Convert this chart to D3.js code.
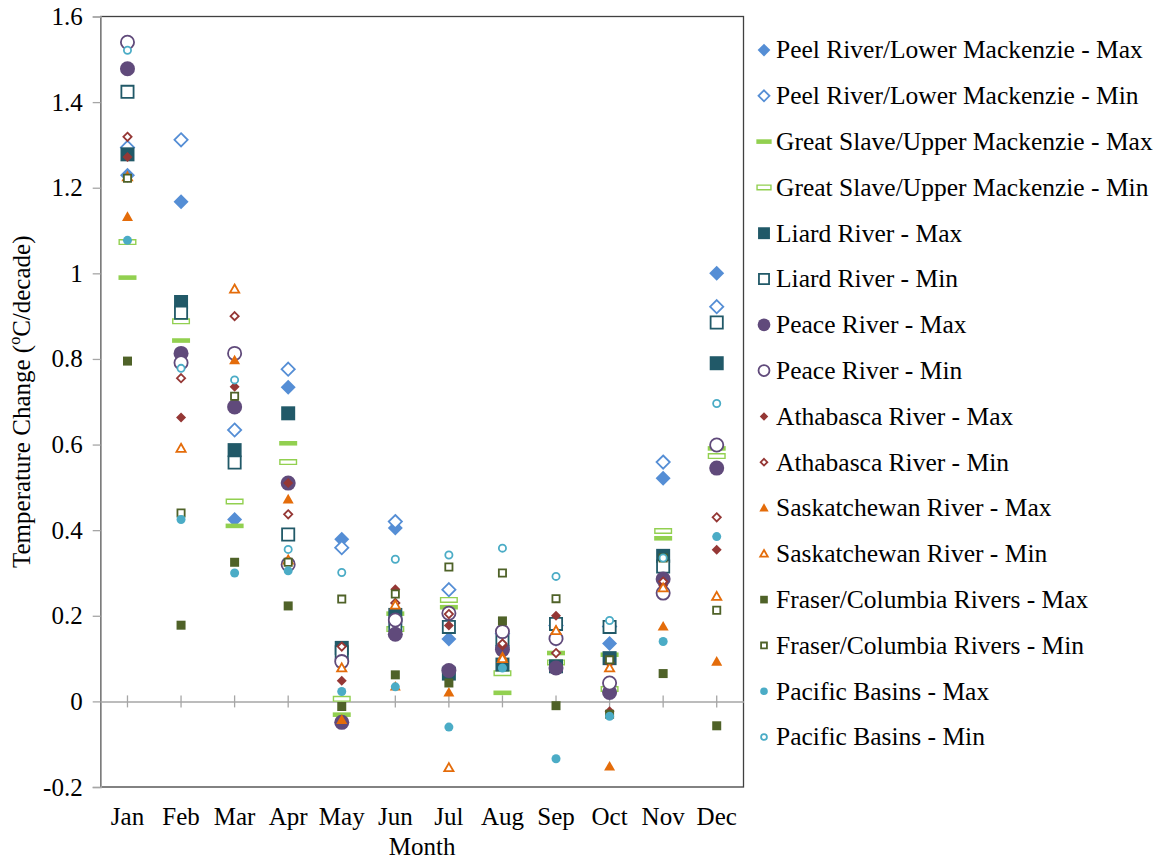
<!DOCTYPE html>
<html>
<head>
<meta charset="utf-8">
<script src="https://cdn.jsdelivr.net/npm/d3@7"></script>
<style>
  body { margin: 0; background: #fff; }
  svg text { font-family: 'Liberation Serif', 'Times New Roman', 'DejaVu Serif', serif; fill: #000; }
</style>
</head>
<body>
<div id="visualization"></div>
<script>

// months on the x axis
let months = ['Jan', 'Feb', 'Mar', 'Apr', 'May', 'Jun', 'Jul', 'Aug', 'Sep', 'Oct', 'Nov', 'Dec'];
let yTicks = [-0.2, 0, 0.2, 0.4, 0.6, 0.8, 1, 1.2, 1.4, 1.6];

// temperature change per decade, one value per month (null = not shown)
let peelMax      = [1.229, 1.167, 0.425, 0.734, 0.379, 0.405, 0.146, 0.130, 0.145, 0.135, 0.521, 1.000];
let peelMin      = [1.294, 1.312, 0.634, 0.776, 0.359, 0.420, 0.261, 0.158, 0.177, 0.175, 0.559, 0.922];
let slaveMax     = [0.990, 0.843, 0.410, 0.603, -0.031, 0.205, 0.220, 0.020, 0.113, 0.109, 0.381, 0.591];
let slaveMin     = [1.073, 0.888, 0.467, 0.559, 0.006, 0.169, 0.237, 0.066, 0.091, 0.029, 0.398, 0.573];
let liardMax     = [1.278, 0.933, 0.587, 0.673, 0.125, 0.202, 0.065, 0.086, 0.082, 0.101, 0.340, 0.790];
let liardMin     = [1.424, 0.908, 0.558, 0.390, 0.115, 0.179, 0.174, 0.140, 0.181, 0.174, 0.315, 0.885];
let peaceMax     = [1.478, 0.813, 0.688, 0.510, -0.049, 0.157, 0.072, 0.121, 0.078, 0.021, 0.286, 0.545];
let peaceMin     = [1.540, 0.791, 0.813, 0.320, 0.093, 0.190, 0.206, 0.163, 0.147, 0.043, 0.253, 0.599];
let athaMax      = [1.272, 0.663, 0.735, 0.510, 0.048, 0.262, 0.177, 0.130, 0.200, -0.023, 0.270, 0.354];
let athaMin      = [1.319, 0.755, 0.900, 0.437, 0.128, 0.230, 0.204, 0.135, 0.113, 0.090, 0.280, 0.430];
let saskMax      = [1.132, null, 0.797, 0.472, -0.043, 0.035, 0.021, 0.105, 0.167, -0.152, 0.175, 0.093];
let saskMin      = [1.225, 0.591, 0.963, 0.330, 0.078, 0.225, -0.155, 0.100, 0.165, 0.078, 0.265, 0.245];
let fraserMax    = [0.795, 0.178, 0.325, 0.223, -0.012, 0.062, 0.043, 0.188, -0.010, -0.030, 0.065, -0.057];
let fraserMin    = [1.222, 0.440, 0.713, 0.325, 0.239, 0.251, 0.314, 0.300, 0.240, 0.097, 0.335, 0.213];
let pacificMax   = [1.077, 0.425, 0.300, 0.305, 0.023, 0.034, -0.060, 0.078, -0.134, -0.035, 0.140, 0.385];
let pacificMin   = [1.521, 0.778, 0.751, 0.355, 0.301, 0.332, 0.342, 0.358, 0.292, 0.189, 0.335, 0.696];

// series in legend (and drawing) order
let series = [
  { name: 'Peel River/Lower Mackenzie - Max', values: peelMax, shape: 'diamond', size: 7.5, color: '#558ED5', hollow: false },
  { name: 'Peel River/Lower Mackenzie - Min', values: peelMin, shape: 'diamond', size: 7.5, color: '#558ED5', hollow: true },
  { name: 'Great Slave/Upper Mackenzie - Max', values: slaveMax, shape: 'dash', size: 9, color: '#92D050', hollow: false },
  { name: 'Great Slave/Upper Mackenzie - Min', values: slaveMin, shape: 'dash', size: 9, color: '#92D050', hollow: true },
  { name: 'Liard River - Max', values: liardMax, shape: 'square', size: 7, color: '#215968', hollow: false },
  { name: 'Liard River - Min', values: liardMin, shape: 'square', size: 7, color: '#215968', hollow: true },
  { name: 'Peace River - Max', values: peaceMax, shape: 'circle', size: 7.5, color: '#604A7B', hollow: false },
  { name: 'Peace River - Min', values: peaceMin, shape: 'circle', size: 7.5, color: '#604A7B', hollow: true },
  { name: 'Athabasca River - Max', values: athaMax, shape: 'diamond', size: 5, color: '#953735', hollow: false },
  { name: 'Athabasca River - Min', values: athaMin, shape: 'diamond', size: 5, color: '#953735', hollow: true },
  { name: 'Saskatchewan River - Max', values: saskMax, shape: 'triangle', size: 5.5, color: '#E46C0A', hollow: false },
  { name: 'Saskatchewan River - Min', values: saskMin, shape: 'triangle', size: 5.5, color: '#E46C0A', hollow: true },
  { name: 'Fraser/Columbia Rivers - Max', values: fraserMax, shape: 'square', size: 4.5, color: '#4F6228', hollow: false },
  { name: 'Fraser/Columbia Rivers - Min', values: fraserMin, shape: 'square', size: 4.5, color: '#4F6228', hollow: true },
  { name: 'Pacific Basins - Max', values: pacificMax, shape: 'circle', size: 4.5, color: '#4BACC6', hollow: false },
  { name: 'Pacific Basins - Min', values: pacificMin, shape: 'circle', size: 4.5, color: '#4BACC6', hollow: true }
];

let serif = "'Liberation Serif', 'Times New Roman', 'DejaVu Serif', serif";

/**
* Builds the path of one marker centred on 0,0.
* r is half the width of the marker.
*/
function markerPath(shape, r) {
  if (shape === 'diamond') {
    return 'M0,' + (-r) + 'L' + r + ',0L0,' + r + 'L' + (-r) + ',0Z';
  }
  if (shape === 'square') {
    return 'M' + (-r) + ',' + (-r) + 'h' + (2 * r) + 'v' + (2 * r) + 'h' + (-2 * r) + 'Z';
  }
  if (shape === 'triangle') {
    return 'M0,' + (-r) + 'L' + r + ',' + (r * 0.75) + 'L' + (-r) + ',' + (r * 0.75) + 'Z';
  }
  if (shape === 'dash') {
    return 'M' + (-r) + ',-2.3h' + (2 * r) + 'v4.6h' + (-2 * r) + 'Z';
  }
  // circle
  return d3.arc()({ innerRadius: 0, outerRadius: r, startAngle: 0, endAngle: 2 * Math.PI });
}

function drawMarker(g, s, scale) {
  let r = s.size * scale;
  let sw = s.hollow ? (s.shape === 'dash' ? 1.4 : 1.8) : 0;
  if (s.hollow) r = r - sw / 2;
  g.append('path')
    .attr('d', markerPath(s.shape, r))
    .attr('fill', s.hollow ? '#fff' : s.color)
    .attr('stroke', s.hollow ? s.color : 'none')
    .attr('stroke-width', sw);
}

let width = 1163, height = 860;
let margin = { top: 16.5, left: 100.7, right: 1163 - 743.5, bottom: 860 - 787 };

let svg = d3.select('#visualization').append('svg')
  .attr('width', width)
  .attr('height', height)
  .attr('font-family', serif);

let x = d3.scaleBand()
  .domain(months)
  .range([margin.left, width - margin.right]);

let y = d3.scaleLinear()
  .domain([-0.2, 1.6])
  .range([height - margin.bottom, margin.top]);

// plot border
svg.append('rect')
  .attr('x', margin.left)
  .attr('y', margin.top)
  .attr('width', width - margin.left - margin.right)
  .attr('height', height - margin.top - margin.bottom)
  .attr('fill', 'none')
  .attr('stroke', '#404040')
  .attr('stroke-width', 1.3);

// y axis
let yAxis = svg.append('g')
  .attr('transform', 'translate(' + margin.left + ',0)')
  .call(d3.axisLeft(y).tickValues(yTicks).tickSize(8).tickPadding(10)
    .tickFormat(function (d) { return String(d); }));
yAxis.attr('font-family', serif);
yAxis.select('.domain').attr('stroke', '#A6A6A6').attr('stroke-width', 1.5);
yAxis.selectAll('.tick line').attr('stroke', '#A6A6A6').attr('stroke-width', 1.3);
yAxis.selectAll('.tick text')
  .attr('font-size', '25px')
  .attr('fill', '#000');

// x axis on the zero line
let xAxis = svg.append('g')
  .attr('transform', 'translate(0,' + y(0) + ')')
  .call(d3.axisBottom(x).tickSizeInner(6).tickSizeOuter(0).tickFormat(''));
xAxis.select('.domain').attr('stroke', '#A6A6A6').attr('stroke-width', 1.5);
xAxis.selectAll('.tick line').attr('stroke', '#A6A6A6').attr('stroke-width', 1.3).attr('y1', -6);

// month labels below the plot
svg.append('g').selectAll('text')
  .data(months)
  .enter().append('text')
  .attr('x', function (m) { return x(m) + x.bandwidth() / 2; })
  .attr('y', 825)
  .attr('text-anchor', 'middle')
  .attr('font-size', '25px')
  .text(function (m) { return m; });

// axis titles
svg.append('text')
  .attr('x', (margin.left + width - margin.right) / 2)
  .attr('y', 855)
  .attr('text-anchor', 'middle')
  .attr('font-size', '25px')
  .text('Month');

let yTitle = svg.append('text')
  .attr('transform', 'translate(30,' + ((margin.top + height - margin.bottom) / 2) + ') rotate(-90)')
  .attr('text-anchor', 'middle')
  .attr('font-size', '25px');
yTitle.append('tspan').text('Temperature Change (');
yTitle.append('tspan').attr('font-size', '16px').attr('dy', -10).text('o');
yTitle.append('tspan').attr('dy', 10).text('C/decade)');

// points, one group per series, later series on top
series.forEach(function (s) {
  let g = svg.append('g');
  s.values.forEach(function (v, i) {
    if (v === null) return;
    let m = g.append('g')
      .attr('transform', 'translate(' + (x(months[i]) + x.bandwidth() / 2) + ',' + y(v) + ')');
    drawMarker(m, s, 1);
  });
});

// legend
let legend = svg.append('g');
series.forEach(function (s, i) {
  let row = legend.append('g')
    .attr('transform', 'translate(764,' + (50 + i * 45.8) + ')');
  drawMarker(row, s, 0.85);
  row.append('text')
    .attr('x', 12)
    .attr('y', 0)
    .attr('dy', '0.33em')
    .attr('font-size', '25.5px')
    .text(s.name);
});

</script>
</body>
</html>
